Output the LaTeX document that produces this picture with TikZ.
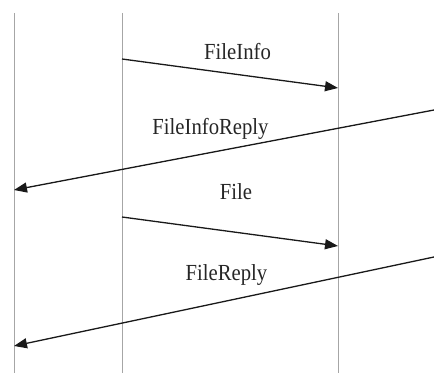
\documentclass[tikz,border=0pt]{standalone}
\usepackage{fontspec}
\setmainfont{Liberation Serif}
\usetikzlibrary{arrows.meta}
\begin{document}
\begin{tikzpicture}[x=1pt,y=1pt,
  lifeline/.style={draw=black!35,line width=0.9pt},
  msg/.style={draw=black!90,line width=1.3pt,-{Triangle[length=13pt,width=10pt]}},
  lbl/.style={font=\fontsize{23}{26}\selectfont,anchor=base,inner sep=0pt,xscale=0.9,text=black!85}]
\useasboundingbox (0,0) rectangle (434,374);
% lifelines
\coordinate (aT) at (14,361); \coordinate (aB) at (14,1);
\coordinate (bT) at (122,361); \coordinate (bB) at (122,1);
\coordinate (cT) at (338,361); \coordinate (cB) at (338,1);
\draw[lifeline] (aT) -- (aB);
\draw[lifeline] (bT) -- (bB);
\draw[lifeline] (cT) -- (cB);
% message end points
\coordinate (m1s) at (122,315); \coordinate (m1e) at (338,286);
\coordinate (m2s) at (434,264); \coordinate (m2e) at (14,184);
\coordinate (m3s) at (122,157); \coordinate (m3e) at (338,128);
\coordinate (m4s) at (434,117); \coordinate (m4e) at (14,28);
\draw[msg] (m1s) -- (m1e);
\draw[msg] (m2s) -- (m2e);
\draw[msg] (m3s) -- (m3e);
\draw[msg] (m4s) -- (m4e);
% labels
\node[lbl] (l1) at (237.5,314) {FileInfo};
\node[lbl] (l2) at (210.5,239) {FileInfoReply};
\node[lbl] (l3) at (236,174) {File};
\node[lbl] (l4) at (226.5,93) {FileReply};
\end{tikzpicture}
\end{document}
